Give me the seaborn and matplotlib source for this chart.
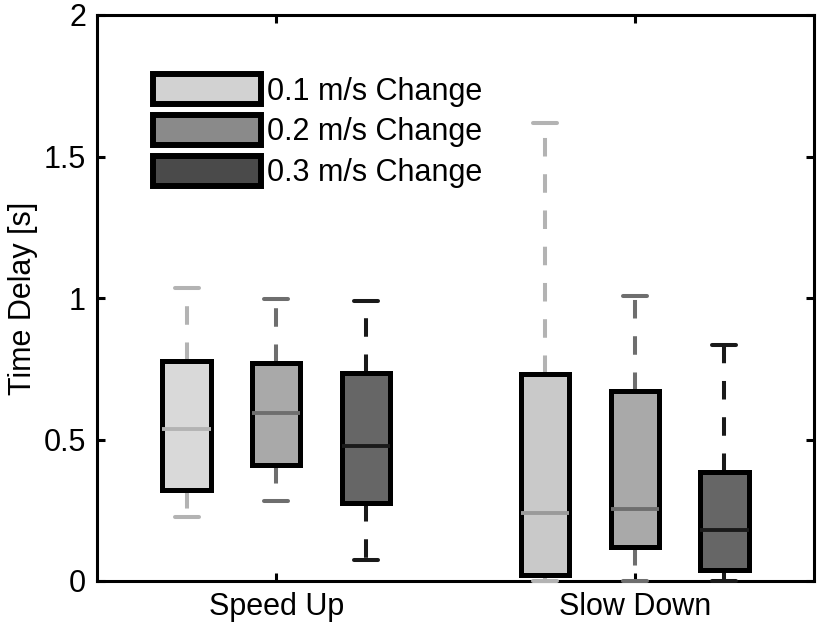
"""Time delay box plots for speed up / slow down"""

import matplotlib
matplotlib.use("Agg")
import matplotlib.pyplot as plt
from matplotlib.patches import Patch
import pandas as pd
import seaborn as sns

# five-number summaries: min, Q1, median, Q3, max
groups = ["Speed Up", "Slow Down"]
changes = ["0.1 m/s Change", "0.2 m/s Change", "0.3 m/s Change"]
speed_up_01 = [0.226, 0.322, 0.537, 0.777, 1.034]
speed_up_02 = [0.284, 0.410, 0.593, 0.769, 0.995]
speed_up_03 = [0.074, 0.274, 0.478, 0.734, 0.990]
slow_down_01 = [0.0, 0.021, 0.239, 0.731, 1.620]
slow_down_02 = [0.0, 0.121, 0.254, 0.673, 1.007]
slow_down_03 = [0.0, 0.039, 0.180, 0.386, 0.835]
y_ticks = [0, 0.5, 1, 1.5, 2]
y_tick_labels = ["0", "0.5", "1", "1.5", "2"]

rows = []
series = {
    ("Speed Up", changes[0]): speed_up_01,
    ("Speed Up", changes[1]): speed_up_02,
    ("Speed Up", changes[2]): speed_up_03,
    ("Slow Down", changes[0]): slow_down_01,
    ("Slow Down", changes[1]): slow_down_02,
    ("Slow Down", changes[2]): slow_down_03,
}
for (g, c), vals in series.items():
    for v in vals:
        rows.append({"group": g, "change": c, "delay": v})
df = pd.DataFrame(rows)

box_fill = ["#d9d9d9", "#a9a9a9", "#666666"]
line_col = ["#b3b3b3", "#6e6e6e", "#1a1a1a"]
median_col = [["#b3b3b3", "#9a9a9a"], ["#6e6e6e", "#6e6e6e"], ["#1a1a1a", "#1a1a1a"]]
slow_fill = ["#c9c9c9", "#a9a9a9", "#666666"]
legend_fill = ["#d2d2d2", "#8a8a8a", "#4a4a4a"]

sns.set_style("white")
plt.rcParams["font.family"] = ["Liberation Sans", "DejaVu Sans"]
plt.rcParams["font.size"] = 22
plt.rcParams["text.color"] = "black"
plt.rcParams["axes.labelcolor"] = "black"

fig = plt.figure(figsize=(8.19, 6.35), dpi=100)
ax = fig.add_axes([97 / 819, 1 - 581 / 635, 717 / 819, 566 / 635])

sns.boxplot(
    data=df, x="group", y="delay", hue="change",
    order=groups, hue_order=changes,
    palette=box_fill, saturation=1, width=0.75, gap=0.46,
    whis=(0, 100), linecolor="black", linewidth=3.6,
    legend=False, ax=ax,
    whiskerprops={"linestyle": (0, (4.6, 4.4)), "linewidth": 2.9},
    capprops={"linewidth": 2.9},
    medianprops={"linewidth": 2.8},
)

# recolour whiskers, caps and medians per change level
for i, cont in enumerate(ax.containers):
    for ln in list(cont.whiskers) + list(cont.caps):
        ln.set_color(line_col[i])
        ln.set_clip_on(False)
    for ln in cont.whiskers:
        ln.set_zorder(1)
    for j, ln in enumerate(cont.medians):
        ln.set_color(median_col[i][j])
    cont.boxes[1].set_facecolor(slow_fill[i])

ax.set_xlim(-0.5, 1.5)
ax.set_ylim(0, 2)
ax.set_yticks(y_ticks)
ax.set_yticklabels(y_tick_labels)
ax.set_xlabel("")
ax.set_ylabel("Time Delay [s]", color="black")

for sp in ax.spines.values():
    sp.set_visible(True)
    sp.set_linewidth(2.2)
    sp.set_color("black")
    sp.set_zorder(0.5)
ax.tick_params(direction="in", length=6, width=2.2, top=True, right=True,
               bottom=True, left=True, labelsize=22, pad=8, colors="black")

handles = [Patch(facecolor=legend_fill[i], edgecolor="black", linewidth=4.3,
                 label=changes[i]) for i in range(3)]
ax.legend(handles=handles, loc="upper left", bbox_to_anchor=(0.078, 0.895),
          frameon=False, fontsize=22, handlelength=3.55, handleheight=1.12,
          handletextpad=0.18, labelspacing=0.28, borderpad=0, borderaxespad=0)

fig.savefig("out.png", dpi=100)
